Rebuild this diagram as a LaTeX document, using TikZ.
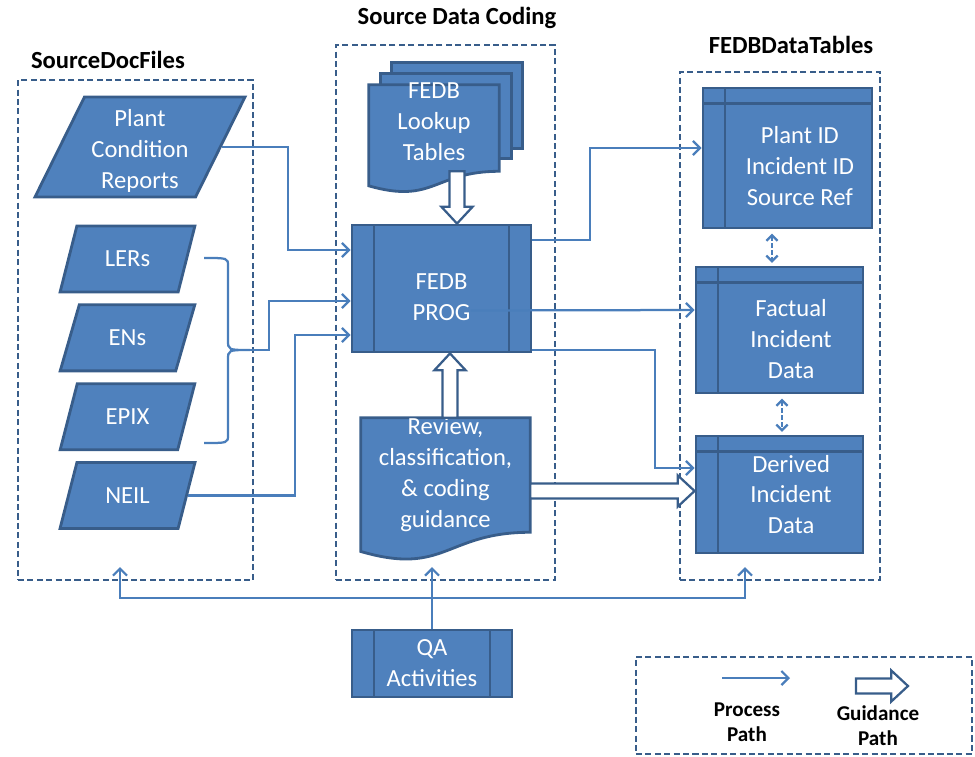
\documentclass[tikz,border=0pt]{standalone}
\usepackage{fontspec}
\setmainfont{Carlito}
\usetikzlibrary{shapes.geometric, arrows.meta, positioning, calc, backgrounds}
\definecolor{boxblue}{HTML}{4F81BD}
\definecolor{edgeblue}{HTML}{385D8A}
\definecolor{lineblue}{HTML}{4A7EBB}

% open block arrow for the guidance paths
\newcommand\guidearrow[2]{%
  \path (#1) coordinate (ga) (#2) coordinate (gb);
  \coordinate (gh) at ($(gb)!0.42cm!(ga)$);
  \filldraw[guide] ($(ga)!0.19cm!90:(gb)$) -- ($(gh)!0.19cm!90:(gb)$) -- ($(gh)!0.39cm!90:(gb)$)
    -- (gb) -- ($(gh)!0.39cm!-90:(gb)$) -- ($(gh)!0.19cm!-90:(gb)$) -- ($(ga)!0.19cm!-90:(gb)$) -- cycle;}

% document sheet with wavy bottom, drawn behind its text node
\newcommand\docsheet[1]{%
  \begin{scope}[on background layer]
  \filldraw[sheet] (#1.north west) -- (#1.north east) -- (#1.south east)
    .. controls (#1.south) and ($(#1.south)!-0.384!(#1.north)$)
    .. ($(#1.south west)!-0.1675!(#1.north west)$) -- cycle;
  \end{scope}}

\begin{document}
\begin{tikzpicture}[x=0.025cm, y=-0.025cm, font=\fontsize{17.5}{22}\selectfont]
% Define styles
\tikzstyle{container} = [rectangle, draw=edgeblue, line width=1.5pt, dash pattern=on 4.3pt off 2.4pt, inner sep=0pt]
\tikzstyle{title} = [font=\fontsize{17.5}{21}\selectfont\bfseries]
\tikzstyle{legendtext} = [font=\fontsize{15}{18}\selectfont\bfseries, align=center]
\tikzstyle{datafile} = [trapezium, trapezium left angle=67, trapezium right angle=113, trapezium stretches=true, draw=edgeblue, fill=boxblue, line width=2pt, text=white, align=center, inner sep=1pt, minimum width=3.375cm, minimum height=1.65cm]
\tikzstyle{process} = [rectangle, draw=edgeblue, fill=boxblue, line width=2pt, text=white, align=center,
  path picture={\draw[edgeblue, line width=2pt]
    ([xshift=0.55cm]path picture bounding box.north west) -- ([xshift=0.55cm]path picture bounding box.south west)
    ([xshift=-0.55cm]path picture bounding box.north east) -- ([xshift=-0.55cm]path picture bounding box.south east);}]
\tikzstyle{table} = [rectangle, draw=edgeblue, fill=boxblue, line width=2pt,
  path picture={\draw[edgeblue, line width=2pt]
    ([yshift=-0.38cm]path picture bounding box.north west) -- ([yshift=-0.38cm]path picture bounding box.north east)
    ([xshift=0.55cm]path picture bounding box.north west) -- ([xshift=0.55cm]path picture bounding box.south west);}]
\tikzstyle{celltext} = [text=white, align=center]
\tikzstyle{doctext} = [rectangle, text=white, align=center, inner sep=0pt]
\tikzstyle{sheet} = [draw=edgeblue, fill=boxblue, line width=2pt]
\tikzstyle{guide} = [draw=edgeblue, fill=white, line width=1.6pt, line join=miter]
\tikzstyle{flow} = [draw=lineblue, line width=1.6pt]
\tikzstyle{proc} = [flow, -{Straight Barb[length=5pt, width=10pt]}]
\tikzstyle{twoway} = [flow, dash pattern=on 3pt off 2pt, {Straight Barb[length=4pt, width=8pt]}-{Straight Barb[length=4pt, width=8pt]}, shorten <=3pt, shorten >=2pt]

\useasboundingbox (0,0) rectangle (975,757);

% Containers
\node (srcbox) [container, minimum width=5.875cm, minimum height=12.5cm] at (135.5,330) {};
\node (codebox) [container, minimum width=5.475cm, minimum height=13.375cm] at (445.5,312.5) {};
\node (tabbox) [container, minimum width=5cm, minimum height=12.7cm] at (780,326) {};
\node (legend) [container, minimum width=8.4cm, minimum height=2.425cm] at (804,705.5) {};

\node (srctitle) [title] at (108,60) {SourceDocFiles};
\node (codetitle) [title] at (457,18) {Source Data Coding};
\node (tabtitle) [title] at (791,45) {FEDBDataTables};

% Source documents
\node (plant) [datafile, trapezium left angle=66, trapezium right angle=114, minimum width=5.25cm, minimum height=2.5cm,
  label={[celltext, yshift=-0.1cm]center:{Plant\\Condition\\Reports}}] at (140,147) {};
\node (lers) [datafile] at (127.5,259) {LERs};
\node (ens) [datafile, below=0.25cm of lers] {ENs};
\node (epix) [datafile, below=0.25cm of ens] {EPIX};
\node (neil) [datafile, below=0.25cm of epix] {NEIL};

% Coding
\node (lookup) [doctext, minimum width=3.25cm, minimum height=2.15cm, label={[celltext, yshift=0.15cm]center:{FEDB\\Lookup\\Tables}}] at (434,128) {};
\begin{scope}[on background layer]
\filldraw[sheet] ([shift={(23,-22)}]lookup.north west) rectangle ([shift={(23,-23)}]lookup.south east);
\filldraw[sheet] ([shift={(12,-11)}]lookup.north west) rectangle ([shift={(12,-13)}]lookup.south east);
\end{scope}
\docsheet{lookup}
\node (prog) [process, minimum width=4.475cm, minimum height=3.175cm, label={[celltext, yshift=-0.22cm]center:{FEDB\\PROG}}] at (441.5,288.5) {};
\node (review) [doctext, minimum width=4.225cm, minimum height=2.75cm] at (445.5,475) {Review,\\classification,\\\& coding\\guidance};
\docsheet{review}
\node (qa) [process, minimum width=4cm, minimum height=1.675cm] at (432,663.5) {QA\\Activities};

% Data tables
\node (plantid) [table, minimum width=4.225cm, minimum height=3.5cm, label={[celltext, xshift=0.31cm, yshift=-0.2cm]center:{Plant ID\\Incident ID\\Source Ref}}] at (787.5,158) {};
\node (factual) [table, minimum width=4.175cm, minimum height=3.15cm, label={[celltext, xshift=0.29cm, yshift=-0.22cm]center:{Factual\\Incident\\Data}}] at (779.5,330) {};
\node (derived) [table, minimum width=4.175cm, minimum height=2.925cm, label={[celltext, xshift=0.29cm]center:{Derived\\Incident\\Data}}] at (779.5,494.5) {};

% Process paths into FEDB PROG
\coordinate (brtop) at (204,258);
\coordinate (brbot) at (204,443);
\coordinate (brtip) at (250,350);
\draw[flow] (brtop) .. controls (228,258) .. (228,266) -- (228,340) .. controls (228,350) .. (brtip)
  .. controls (228,350) .. (228,360) -- (228,435) .. controls (228,443) .. (brbot);
\draw[proc] (plant.east) -| (288,250) -- (prog.west |- 0,250);
\draw[proc] (brtip) -| (269,301) -- (prog.west |- 0,301);
\draw[proc] (neil.east) -| (295,335) -- (prog.west |- 0,335);

% Process paths out of FEDB PROG
\draw[proc] (prog.east |- 0,240) -| (590,148) -- (plantid.west |- 0,148);
\draw[proc] ([shift={(29,22)}]prog.center) -- (factual.west |- 0,310);
\draw[proc] (prog.east |- 0,350) -| (655,468) -- (derived.west |- 0,468);

\draw[twoway] (plantid.south -| 772,0) -- (factual.north -| 772,0);
\draw[twoway] (factual.south -| 782,0) -- (derived.north -| 782,0);

% Guidance paths
\guidearrow{lookup.south -| 457,0}{prog.north -| 457,0}
\guidearrow{review.north -| 450,0}{prog.south -| 450,0}
\guidearrow{review.east |- 0,491}{derived.west |- 0,491}

% QA feedback
\coordinate (qajoin) at (qa.north |- 0,598);
\draw[proc, shorten >=-10pt] (qa.north) -- (qa.north |- codebox.south);
\draw[proc, shorten >=-10pt] (qajoin) -| (srcbox.south -| 120,0);
\draw[proc, shorten >=-10pt] (qajoin) -| (tabbox.south -| 745,0);

% Legend
\coordinate (procA) at (722,678);
\coordinate (procB) at (790,678);
\coordinate (guideA) at (856,686);
\coordinate (guideB) at (908,686);
\draw[proc] (procA) -- (procB);
\guidearrow{guideA}{guideB}
\node (proclbl) [legendtext] at (747,722) {Process\\Path};
\node (guidelbl) [legendtext] at (878,726) {Guidance\\Path};
\end{tikzpicture}
\end{document}
